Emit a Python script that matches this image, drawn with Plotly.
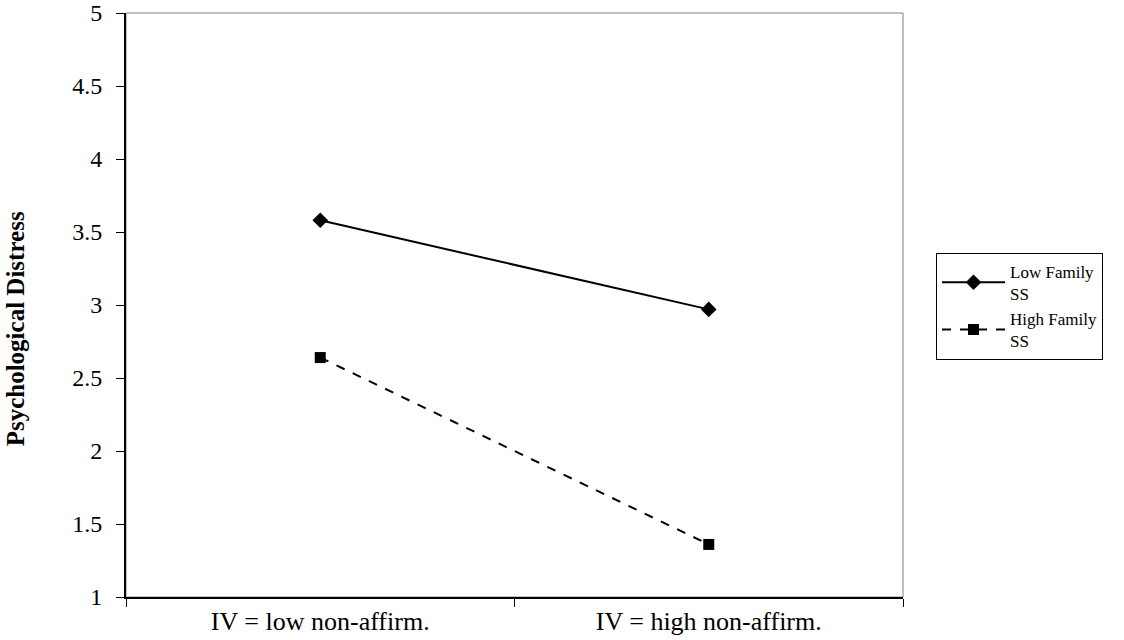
import plotly.graph_objects as go

categories = ["IV = low non-affirm.", "IV = high non-affirm."]
low_family_ss = [3.58, 2.97]
high_family_ss = [2.64, 1.36]
series_names = ["Low Family<br>SS", "High Family<br>SS"]
y_ticks = [1, 1.5, 2, 2.5, 3, 3.5, 4, 4.5, 5]
y_tick_labels = ["1", "1.5", "2", "2.5", "3", "3.5", "4", "4.5", "5"]
y_title = "Psychological Distress"

font_family = "Liberation Serif, Times New Roman, serif"

fig = go.Figure()
fig.add_trace(go.Scatter(
    x=categories, y=low_family_ss, name=series_names[0], mode="lines+markers",
    line=dict(color="black", width=2, dash="solid"),
    marker=dict(symbol="diamond", size=12, color="black"),
))
fig.add_trace(go.Scatter(
    x=categories, y=high_family_ss, name=series_names[1], mode="lines+markers",
    line=dict(color="black", width=2, dash="dash"),
    marker=dict(symbol="square", size=11, color="black"),
))

fig.add_shape(type="rect", xref="paper", yref="paper", x0=0, y0=0, x1=1, y1=1,
              line=dict(color="#808080", width=1), layer="below")

fig.add_annotation(
    text="<b>" + y_title + "</b>", xref="paper", yref="paper",
    x=-0.1429, y=0.46, xanchor="center", yanchor="middle", textangle=-90,
    showarrow=False, font=dict(family=font_family, size=25, color="black"),
)

fig.update_layout(
    width=1124, height=640,
    margin=dict(l=126, r=221, t=13, b=43, autoexpand=False),
    plot_bgcolor="white", paper_bgcolor="white",
    font=dict(family=font_family, color="black", size=20),
    showlegend=True,
    legend=dict(
        x=1.0425, y=0.498, xanchor="left", yanchor="middle",
        bordercolor="black", borderwidth=1, bgcolor="white",
        font=dict(family=font_family, size=17, color="black"),
        tracegroupgap=0, itemwidth=63,
    ),
    xaxis=dict(
        type="category", tickson="boundaries", ticks="outside", ticklen=8,
        tickcolor="black", showline=True, linecolor="black", linewidth=2,
        showgrid=False, zeroline=False, range=[-0.5, 1.5], automargin=False,
        tickfont=dict(family=font_family, size=26),
    ),
    yaxis=dict(
        range=[1, 5], tickvals=y_ticks, ticktext=y_tick_labels,
        ticks="outside", ticklen=8, tickcolor="black",
        showline=True, linecolor="black", linewidth=2,
        showgrid=False, zeroline=False, automargin=False,
        ticklabelstandoff=9, ticklabeloverflow="allow",
        tickfont=dict(family=font_family, size=24),
    ),
)

fig.write_html(
    "out.html",
    config={"displayModeBar": False},
    post_script="document.body.style.margin='0';document.body.style.overflow='hidden';",
)
